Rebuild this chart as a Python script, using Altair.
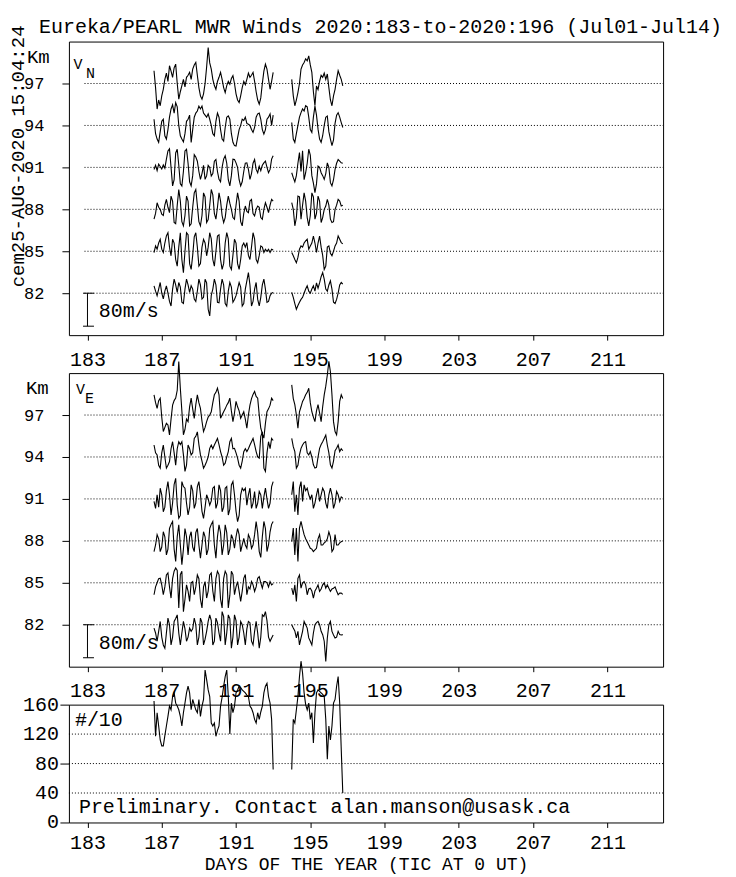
import altair as alt
import pandas as pd

FONT = "Liberation Mono"

TITLE = "Eureka/PEARL MWR Winds 2020:183-to-2020:196 (Jul01-Jul14)"
STAMP = "cem25-AUG-2020 15:04:24"
NOTE = "Preliminary. Contact alan.manson@usask.ca"
XTITLE = "DAYS OF THE YEAR (TIC AT 0 UT)"
Y3TITLE = "(Nmbr/90m)/10"

# time grid of the two data segments (2-hour samples)
SEG1_START = 186 + 14 / 24
SEG2_START = 194.0
STEP_DAYS = 2 / 24

KM_LEVELS = [97, 94, 91, 88, 85, 82]
COUNT_TICKS = [0, 40, 80, 120, 160]
XTICKS = list(range(183, 214))
SCALE_MS = 80      # scale bar length in m/s
SCALE_KM = 2.36    # ... and in km on the height axis

# ---------------- V_N (m/s), per height: segment 1 / segment 2 ----------------
vn97_a = [31, -10, -62, -40, -54, -30, -14, 10, 25, 5, 43, 30, 15, 38, 47, 0, -38, -20,
          -5, 10, -8, 15, 20, 27, 10, 35, 45, 51, 20, -10, -30, -38, -25, 0, 40, 87,
          50, 35, 10, -5, -14, 5, 15, 27, 10, -10, -22, -5, 5, -2, 12, 19, 0, -25,
          -40, -46, -30, -10, 5, -3, 10, 25, 15, 20, 27, 5, -20, -40, -50, -35, 0, 30,
          47, 35, 10, -14, 5, 27]
vn97_b = [10, -30, -54, -40, -22, 0, 35, 45, 51, 60, 55, 67, 45, 27, -20, -54, -6, -15,
          5, 20, 15, 25, 10, 23, -10, -40, -54, -30, -14, 10, 31, 20, 10, -6]
vn94_a = [15, -20, -33, -41, -15, 10, 15, -25, -33, -10, 20, 40, 50, 30, 55, 45, 0, -25,
          -33, -40, -20, 10, 15, 25, -41, -10, 20, 30, 35, 47, 40, 47, 30, 25, 20, 28,
          15, 0, -20, -25, 10, 30, 20, -10, -33, -38, -5, 20, 23, 15, -20, -41, -49, -50,
          -30, -10, 0, 15, 12, 20, 5, 3, 0, -10, -17, -5, 20, 28, 30, 15, -10, -21,
          -10, 15, 20, 28, 0, 25]
vn94_b = [7, -33, -41, -20, 0, 20, 31, 40, 35, 48, 45, 20, -10, -17, 20, 47, 25, -9,
          -33, -41, -25, 0, 20, 23, -15, -33, -49, -35, 5, 25, 31, 20, 7, -5]
vn91_a = [-5, 5, -8, 8, 2, -4, 6, -2, 20, 40, 45, 0, -45, -30, 35, 44, 5, -40,
          -45, -10, 40, 44, 10, -35, -45, -20, 31, 25, 15, -10, -29, -15, 5, -29, -20, 5,
          0, -21, -15, 15, 19, -10, -29, -35, 0, 20, 28, 10, -30, -45, -20, 20, 19, 11,
          0, -30, -45, -35, -10, 10, 11, -5, -29, -15, 10, 19, -5, -13, 3, -8, 5, 11,
          15, 0, -13, -5, 20, 28]
vn91_b = [-13, -25, -35, -20, 10, 36, -10, 40, -30, -13, 10, 44, 30, -20, -38, -61, -40, 3,
          0, -13, -20, -29, -15, 11, 0, -37, -45, -30, -5, 10, 19, 15, 11, 10]
vn88_a = [-24, -10, 16, 5, 0, -12, -15, 10, 24, 5, -8, 32, 20, -32, -35, 10, 48, 20,
          -30, -40, -15, 32, 20, -40, -35, 5, 40, 48, 10, -30, -40, -15, 40, 30, -32, -25,
          10, 48, 35, -10, -24, 5, 40, 20, -15, -32, -20, 10, 32, 15, 0, -20, -24, 10,
          40, 20, -30, -40, -10, 8, -5, -8, 20, 24, -10, -16, 0, 8, 5, -20, -24, 0,
          16, 5, -8, 10, 24, 20]
vn88_b = [16, 0, -40, -20, 32, 30, -24, 10, 40, 20, -20, -40, -15, 40, 30, -24, -10, 32,
          20, -32, -20, 0, 8, 24, 10, -24, -32, -30, 0, 10, 24, 20, 8, 10]
vn85_a = [-3, 13, 5, 20, 29, 5, -3, 20, 37, 45, 10, -11, 29, 20, -20, -36, 10, 45,
          -20, -52, 0, 45, 40, -30, -44, -10, 35, 45, 10, -36, -30, 10, 29, 20, -11, 10,
          45, 30, -20, -36, 0, 37, 40, -20, -44, -30, 20, 45, 30, -36, -44, -10, 29, 20,
          -30, -44, -20, 13, 20, 10, 21, -10, -20, 10, 45, 30, -20, -28, -10, 13, 10, -3,
          5, 0, 5, -3, 5, 3]
vn85_b = [-3, -11, -20, -28, -15, 5, 13, 10, 20, 25, 29, 5, 13, 20, 37, 20, -3, 20,
          37, 10, -10, -44, -36, 10, 13, -5, -11, 0, 13, 20, 37, 29, 21, 18]
vn82_a = [18, 5, -6, 10, 26, 0, -14, 5, 18, 0, -20, -31, 10, 34, 20, 2, 26, 15,
          -22, -25, 10, 34, 20, 2, 18, 10, -14, -20, 5, 34, 20, -14, -10, 34, 25, -39,
          -55, -5, 10, 34, 20, -22, -23, 10, 34, 20, -25, -31, 5, 26, 15, -22, -15, -6,
          10, 26, 15, -31, -25, 10, 30, 50, 20, -31, -20, 10, 26, -15, -31, -10, 20, 34,
          10, -22, -20, -6, 0, 2]
vn82_b = [2, -10, -25, -39, -30, -22, -15, -10, 0, 10, 18, 5, 0, 10, 18, 5, 25, 12,
          25, 40, 50, 34, 10, 5, 20, 30, 10, -22, -25, -15, 0, 20, 26, 22]

# ---------------- V_E (m/s) ----------------
ve97_a = [49, 30, 16, 35, 41, -5, -40, -30, -20, -24, -48, -10, 24, 35, 41, 60, 130, 65,
          10, -48, -35, -10, -16, 20, 41, 15, -8, 25, 49, 30, 16, -15, -40, -30, -16, -5,
          0, 8, 30, 49, 55, 65, 49, -8, 0, 8, 15, 24, 30, 41, 10, -16, 5, 33,
          20, 10, -8, 0, 8, -10, -32, 0, 24, 40, 50, 57, 45, 41, 0, -32, -45, -56,
          -20, 8, 15, 24, 41, 35]
ve97_b = [73, 40, 25, 0, -32, 8, 20, 33, 40, 49, 55, 65, 30, 8, -5, -16, 10, 25,
          5, -16, 20, 49, 70, 97, 130, 105, 49, -16, -40, -48, -16, 33, 49, 40]
ve94_a = [29, 10, 5, -20, -27, 10, 29, 0, -27, -20, -11, 20, 37, 10, -20, 20, 37, 30,
          37, 5, -35, -20, 29, 20, 5, 10, 45, 50, 61, 30, 5, -10, -27, -20, -11, 0,
          21, 29, 20, 29, 37, 45, 30, 13, 0, -20, -15, 0, 13, 37, 45, 20, 21, 10,
          -3, -20, -27, -10, 13, 20, 13, 20, 29, 37, 45, 30, 13, 0, -3, 50, 61, -27,
          -35, 10, 37, 20, 45, 40]
ve94_b = [45, 25, 13, -27, -20, 5, 21, 29, 35, 37, 10, 5, 13, 0, -19, -27, -25, 0,
          21, 30, 37, 45, 53, 29, 10, -19, -27, -10, 15, 21, 29, 13, 20, 15]
ve91_a = [-6, -23, 10, -20, 26, 10, -31, -20, 20, 42, 10, -39, -10, 35, 50, -15, -47, -40,
          42, 30, 26, -10, -39, -20, 34, 20, -23, -10, 30, 42, 10, -30, -47, -20, 10, 0,
          -15, -5, 26, 30, -23, -10, 34, 20, -31, -20, 26, 30, -39, -25, 34, 42, 10, -30,
          -55, -40, 10, 26, 20, 26, -15, 10, 26, -23, -10, 18, -23, -10, 18, 10, -23, 5,
          26, 0, -23, -10, 30, 42]
ve91_b = [10, 42, -31, 10, -39, 26, 42, -6, 34, 20, 26, 10, 0, 10, -23, -10, 10, 26,
          -6, 10, 26, 18, -10, -23, 10, 26, 10, -23, -10, 18, 10, -6, 5, 2]
ve88_a = [-26, -10, 15, 5, -26, -15, 22, 10, -34, -20, 30, 40, 47, -20, -50, 10, 39, -10,
          -58, -20, 30, 10, -34, 10, 22, -15, -26, 20, 30, -10, -42, -10, 22, 10, -34, -20,
          30, 40, 47, -10, -42, 10, 39, 20, -34, -10, 39, 20, -34, -20, 15, 5, -18, 10,
          30, 15, -26, -10, 6, -10, -18, 15, 6, -18, -10, 15, 47, 20, -26, -40, 10, 47,
          30, -26, -10, 22, 40, 47]
ve88_b = [-2, 31, -34, 31, -50, 31, 47, 30, 15, 5, -2, -10, -18, -20, -26, -22, -18, 5,
          15, -10, -10, -5, -2, 5, 22, 10, -26, -20, 15, -10, -10, -5, -2, 0]
ve85_a = [-29, -10, 0, 10, 11, -5, -29, -10, 19, 24, -10, -37, 10, 28, 36, 30, -61, 20,
          28, -70, -40, -5, -20, -45, 0, 3, -29, -10, 19, 10, -40, -61, -10, 3, -37, -20,
          19, 24, -20, -45, 10, 28, 20, -40, -61, 10, 28, 20, -61, -30, 28, 20, -29, -10,
          3, -20, -45, -20, 11, 20, -29, -10, -15, 3, -5, -21, -10, 11, 15, 0, -13, 3,
          3, 0, -10, 3, -5, -2]
ve85_b = [-13, -29, -5, -45, 11, 19, -13, 0, 3, -5, -29, -15, -13, -20, -37, -20, -13, -5,
          -21, -15, -5, 0, -13, -5, -13, -21, -15, -13, -10, -20, -29, -25, -25, -28]
ve82_a = [-8, -20, -40, -16, 8, -30, -49, -57, -20, 16, 0, -49, -30, 8, 15, 24, -20, -49,
          -20, 8, -10, -40, -30, -8, -16, -10, 16, 0, -49, -30, 16, 5, -49, -35, -16, 8,
          24, 10, -49, -40, 16, 5, -20, -40, 32, 20, -49, -20, 24, 15, -57, -30, 24, 10,
          -49, -30, 8, 0, -20, -49, -10, 8, 5, -40, -49, -16, 8, -20, -57, -30, 24, 20,
          32, 10, -30, -40, -32, -25]
ve82_b = [0, -8, -15, -32, -16, -49, -32, -16, 8, 0, -8, -32, -40, -49, -20, 0, 5, 8,
          0, -16, -24, -40, -89, -32, 0, 8, -16, -25, -32, -30, -16, -24, -25, -24]

# ---------------- echo counts (#/10) ----------------
cnt_a = [165, 117, 149, 131, 112, 104, 104, 118, 131, 144, 158, 153, 171, 176, 162, 158, 153, 144,
         131, 149, 162, 176, 185, 176, 153, 167, 160, 153, 149, 167, 144, 158, 167, 207, 194, 180,
         171, 135, 131, 135, 117, 125, 131, 158, 170, 185, 198, 207, 171, 120, 162, 149, 158, 176,
         180, 185, 183, 180, 178, 176, 173, 171, 158, 155, 149, 140, 135, 149, 140, 150, 158, 176,
         185, 189, 171, 162, 140, 72]
cnt_b = [72, 140, 135, 153, 171, 198, 219, 203, 176, 160, 153, 162, 140, 149, 108, 149, 176, 180,
         178, 176, 174, 171, 140, 86, 131, 112, 131, 162, 167, 185, 198, 162, 99, 40]

VN = {97: (vn97_a, vn97_b), 94: (vn94_a, vn94_b), 91: (vn91_a, vn91_b),
      88: (vn88_a, vn88_b), 85: (vn85_a, vn85_b), 82: (vn82_a, vn82_b)}
VE = {97: (ve97_a, ve97_b), 94: (ve94_a, ve94_b), 91: (ve91_a, ve91_b),
      88: (ve88_a, ve88_b), 85: (ve85_a, ve85_b), 82: (ve82_a, ve82_b)}


def seg_rows(values, start, key, level=0):
    return [{"t": start + k * STEP_DAYS, "v": val, "level": level, "key": key}
            for k, val in enumerate(values)]


def wind_frame(series):
    rows = []
    for lev, (a, b) in series.items():
        rows += seg_rows(a, SEG1_START, f"{lev}a", lev)
        rows += seg_rows(b, SEG2_START, f"{lev}b", lev)
    return pd.DataFrame(rows)


count_df = pd.DataFrame(seg_rows(cnt_a, SEG1_START, "a") + seg_rows(cnt_b, SEG2_START, "b"))
one = pd.DataFrame({"_": [0]})
levels_df = pd.DataFrame({"km": KM_LEVELS})
cgrid_df = pd.DataFrame({"c": [40, 80, 120]})
clabel_df = pd.DataFrame({"c": COUNT_TICKS,
                          "lbl": [str(c) if c else "0\u00a0\u00a0" for c in COUNT_TICKS]})

W = 595
H_WIND = 294
H_CNT = 118
xscale = alt.Scale(domain=[182, 214], nice=False, zero=False)
yscale = alt.Scale(domain=[79, 100], nice=False, zero=False)
cscale = alt.Scale(domain=[0, 160], nice=False, zero=True)
LABEL_EXPR = "(datum.value - 183) % 4 == 0 ? datum.label : ''"
LEFT_TEXT_X = -51
LINE_W = 1.1


def x_axis(title=None):
    kw = dict(values=XTICKS, format="d", labelExpr=LABEL_EXPR, tickSize=5,
              labelFlush=False, labelOverlap=False)
    if title:
        kw.update(title=title, titleY=47.5, titleBaseline="alphabetic", titleFontSize=18,
                  labelPadding=5)
    else:
        kw.update(title=None, labelPadding=9)
    return alt.Axis(**kw)


def text(t, x, y, size=20, align="left", angle=0):
    kw = dict(text=t, font=FONT, fontSize=size, align=align, baseline="middle", color="black")
    if angle:
        kw["angle"] = angle
    return alt.Chart(one).mark_text(**kw).encode(x=alt.value(x), y=alt.value(y))


def wind_panel(series, sub, vpos, subpos, extra=()):
    df = wind_frame(series)
    lines = alt.Chart(df).transform_calculate(
        y=f"datum.level + datum.v * {SCALE_KM / SCALE_MS}"
    ).mark_line(color="black", strokeWidth=LINE_W).encode(
        x=alt.X("t:Q", scale=xscale, axis=x_axis()),
        y=alt.Y("y:Q", scale=yscale,
                axis=alt.Axis(values=KM_LEVELS, tickSize=7, labelPadding=18, title=None,
                              labelOverlap=False, labelFontSize=17)),
        detail="key:N",
    )
    grid = alt.Chart(levels_df).mark_rule(color="black", strokeWidth=1, strokeDash=[1, 2]).encode(
        x=alt.XDatum(182.84, scale=xscale, title=None),
        x2=alt.X2Datum(214),
        y=alt.Y("km:Q", scale=yscale, title=None),
    )
    bar = alt.Chart(one).mark_rule(color="black", strokeWidth=1).encode(
        x=alt.XDatum(183, scale=xscale, title=None),
        y=alt.YDatum(82, scale=yscale, title=None),
        y2=alt.Y2Datum(82 - SCALE_KM),
    )
    serif_top = alt.Chart(one).mark_rule(color="black", strokeWidth=1).encode(
        x=alt.XDatum(182.76, scale=xscale, title=None), x2=alt.X2Datum(183.35),
        y=alt.YDatum(82, scale=yscale, title=None),
    )
    serif_bot = alt.Chart(one).mark_rule(color="black", strokeWidth=1).encode(
        x=alt.XDatum(182.76, scale=xscale, title=None), x2=alt.X2Datum(183.35),
        y=alt.YDatum(82 - SCALE_KM, scale=yscale, title=None),
    )
    layers = [lines, grid, bar, serif_top, serif_bot,
              text("Km", vpos[0], vpos[1], size=19),
              text("V", subpos[0], subpos[1], size=15, align="center"),
              text(sub, subpos[2], subpos[3], size=15, align="center"),
              text(f"{SCALE_MS}m/s", 30, 270)] + list(extra)
    return alt.layer(*layers).properties(width=W, height=H_WIND)


p1 = wind_panel(VN, "N", (-42, 15.5), (9, 22, 21.5, 31),
                extra=[text(TITLE, -30, -15),
                       text(STAMP, LEFT_TEXT_X, 115, size=19, align="center", angle=270)])
p2 = wind_panel(VE, "E", (-43, 15), (11.5, 15.5, 20.5, 25))

cline = alt.Chart(count_df).mark_line(color="black", strokeWidth=LINE_W).encode(
    x=alt.X("t:Q", scale=xscale, axis=x_axis(XTITLE)),
    y=alt.Y("v:Q", scale=cscale,
            axis=alt.Axis(values=COUNT_TICKS, tickSize=9, labels=False, title=Y3TITLE,
                          titleX=LEFT_TEXT_X, titleY=59, titleBaseline="middle",
                          titleAlign="center", titleAngle=270, titleFontSize=19)),
    detail="key:N",
)
cgrid = alt.Chart(cgrid_df).mark_rule(color="black", strokeWidth=1, strokeDash=[1, 2]).encode(
    x=alt.XDatum(182, scale=xscale, title=None), x2=alt.X2Datum(214),
    y=alt.Y("c:Q", scale=cscale, title=None),
)
clabels = alt.Chart(clabel_df).mark_text(
    font=FONT, fontSize=20, align="right", baseline="middle", color="black"
).encode(
    x=alt.value(-10),
    y=alt.Y("c:Q", scale=cscale, title=None),
    text="lbl:N",
)
p3 = alt.layer(cline, cgrid, clabels, text("#/10", 6, 15), text(NOTE, 10, 103)).properties(
    width=W, height=H_CNT)

chart = alt.vconcat(p1, p2, p3, spacing=38, bounds="flush").properties(
    padding={"left": 0, "top": 7, "right": 5, "bottom": 0},
    background="white",
).configure_view(stroke="black", strokeWidth=1).configure_axis(
    domain=False, grid=False, labelFont=FONT, labelFontSize=20, labelColor="black",
    tickColor="black", tickWidth=1, titleFont=FONT, titleFontSize=20,
    titleFontWeight="normal", titleColor="black", labelOverlap=False,
)

chart.save("out.html", embed_options={"renderer": "svg", "actions": False})
